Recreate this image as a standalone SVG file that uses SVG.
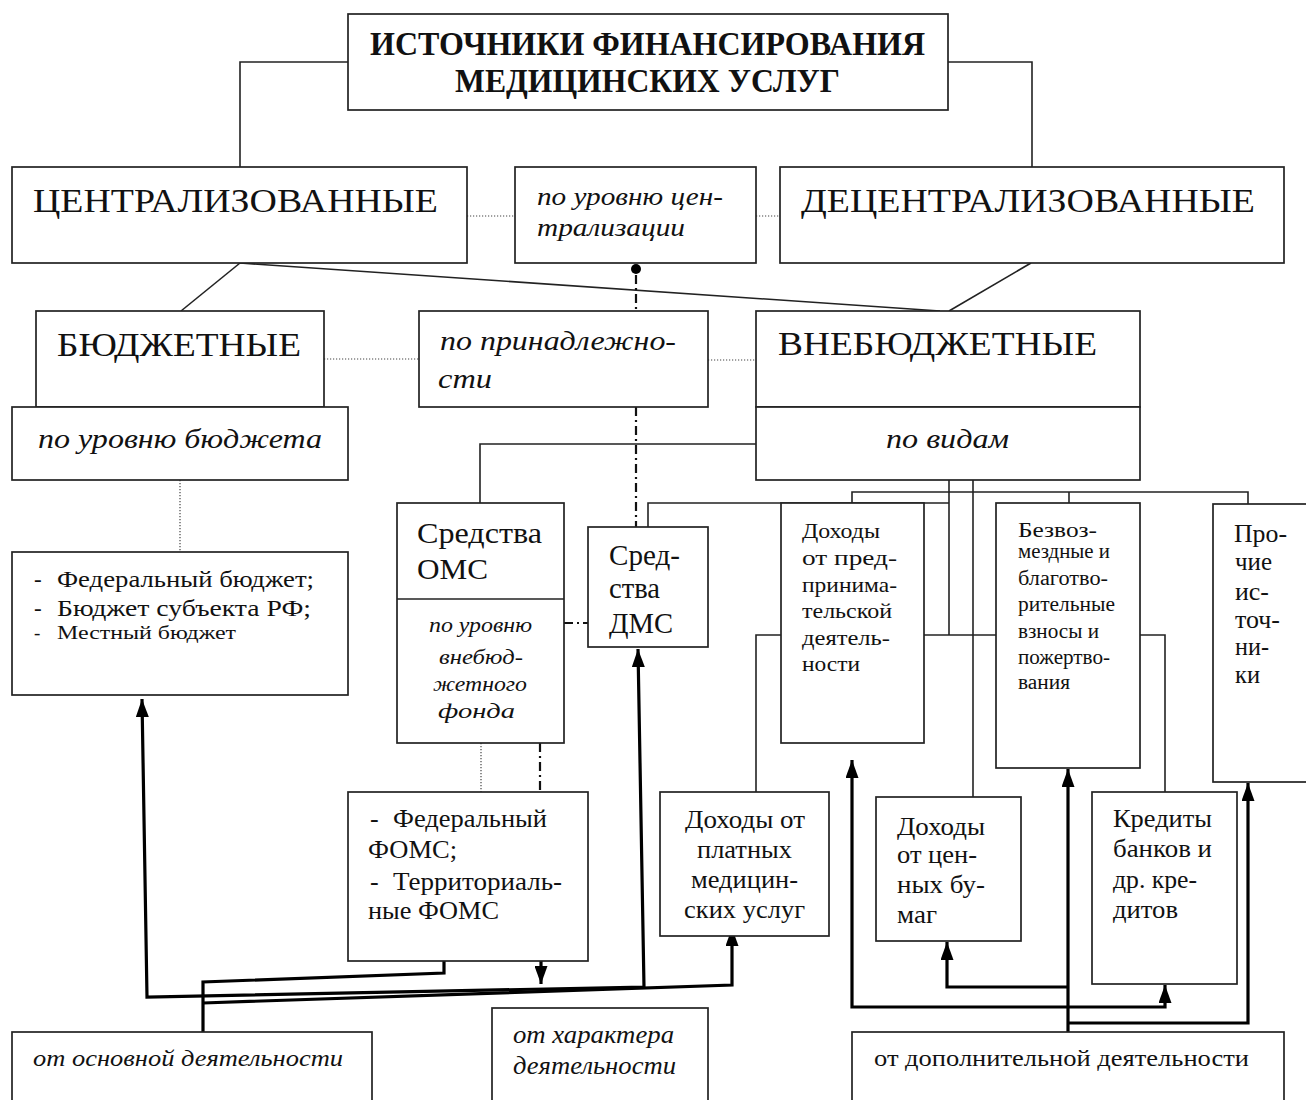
<svg xmlns="http://www.w3.org/2000/svg" width="1306" height="1100" viewBox="0 0 1306 1100">
<style>
text{font-family:"Liberation Serif","Times New Roman",serif;fill:#111}
.b{font-weight:bold;font-size:33px}
.cap{font-size:33px}
.it{font-style:italic}
.box{fill:#fff;stroke:#222;stroke-width:1.7}
.ln{fill:none;stroke:#222;stroke-width:1.6}
.dot{fill:none;stroke:#444;stroke-width:1.2;stroke-dasharray:1.2 1.8}
.dd{fill:none;stroke:#111;stroke-width:2.2;stroke-dasharray:9 4 2 4}
.bold{fill:none;stroke:#000;stroke-width:3.2;stroke-linejoin:miter}
.arr{marker-end:url(#ah)}
.arr2{marker-start:url(#ah);marker-end:url(#ah)}
</style>
<defs>
<marker id="ah" viewBox="0 0 18 13" refX="18" refY="6.5" markerWidth="18" markerHeight="13" markerUnits="userSpaceOnUse" orient="auto-start-reverse">
<path d="M0,0 L18,6.5 L0,13 z" fill="#000"/>
</marker>
</defs>
<rect width="1306" height="1100" fill="#fff"/>
<g id="connectors">
<path class="ln" d="M348,62 H240 V167"/>
<path class="ln" d="M948,62 H1032 V167"/>
<path class="ln" d="M240,263 L181,311"/>
<path class="ln" d="M240,263 L940,311"/>
<path class="ln" d="M1031,263 L949,311"/>
<path class="dot" d="M467,216 H515"/>
<path class="dot" d="M756,216 H780"/>
<path class="dot" d="M324,359 H419"/>
<path class="dot" d="M708,360 H756"/>
<path class="dot" d="M180,480 V552"/>
<path class="dot" d="M481,743 V792"/>
<path class="dd" d="M636,275 V311"/>
<path class="dd" d="M636,407 V527"/>
<path class="dd" d="M564,623 H588"/>
<path class="dd" d="M540,743 V792"/>
<circle cx="636" cy="269" r="5" fill="#000"/>
<path class="ln" d="M756,444 H480 V503"/>
<path class="ln" d="M648,527 V503 H949"/>
<path class="ln" d="M949,480 V635"/>
<path class="ln" d="M973,480 V797"/>
<path class="ln" d="M852,503 V492 H1248 V504"/>
<path class="ln" d="M1069,492 V503"/>
<path class="ln" d="M781,635 H756 V792"/>
<path class="ln" d="M924,635 H996"/>
<path class="ln" d="M1140,635 H1165 V792"/>
<path class="bold arr2" d="M142,699 L147,997 L644,987 L638,649"/>
<path class="bold arr" d="M203,1048 L203,982 L444,973 L444,942"/>
<path class="bold arr" d="M203,1003 L732,985 L732,928"/>
<path class="bold arr" d="M541,961 L541,984"/>
<path class="bold arr" d="M1068,1048 L1068,769"/>
<path class="bold arr" d="M1068,987 L947,987 L947,942"/>
<path class="bold arr" d="M1068,1023 L1248,1023 L1248,783"/>
<path class="bold arr2" d="M852,760 L852,1007 L1165,1007 L1165,985"/>
</g>
<g id="title"><rect class="box" x="348" y="14" width="600" height="96"/>
<text class="b" x="370" y="55" textLength="555" lengthAdjust="spacingAndGlyphs">ИСТОЧНИКИ ФИНАНСИРОВАНИЯ</text>
<text class="b" x="455" y="92" textLength="385" lengthAdjust="spacingAndGlyphs">МЕДИЦИНСКИХ УСЛУГ</text></g>
<g id="centr"><rect class="box" x="12" y="167" width="455" height="96"/>
<text class="cap" x="33" y="212" textLength="405" lengthAdjust="spacingAndGlyphs">ЦЕНТРАЛИЗОВАННЫЕ</text></g>
<g id="po-urovnyu-centr"><rect class="box" x="515" y="167" width="241" height="96"/>
<text class="it" font-size="25" x="537" y="205" textLength="186" lengthAdjust="spacingAndGlyphs">по уровню цен-</text>
<text class="it" font-size="25" x="537" y="236" textLength="148" lengthAdjust="spacingAndGlyphs">трализации</text></g>
<g id="decentr"><rect class="box" x="780" y="167" width="504" height="96"/>
<text class="cap" x="801" y="212" textLength="454" lengthAdjust="spacingAndGlyphs">ДЕЦЕНТРАЛИЗОВАННЫЕ</text></g>
<g id="budget"><rect class="box" x="36" y="311" width="288" height="96"/>
<text class="cap" x="57" y="356" textLength="244" lengthAdjust="spacingAndGlyphs">БЮДЖЕТНЫЕ</text></g>
<g id="po-urovnyu-budget"><rect class="box" x="12" y="407" width="336" height="73"/>
<text class="it" font-size="28" x="38" y="448" textLength="284" lengthAdjust="spacingAndGlyphs">по уровню бюджета</text></g>
<g id="po-prinadl"><rect class="box" x="419" y="311" width="289" height="96"/>
<text class="it" font-size="28" x="440" y="350" textLength="236" lengthAdjust="spacingAndGlyphs">по принадлежно-</text>
<text class="it" font-size="28" x="438" y="388" textLength="54" lengthAdjust="spacingAndGlyphs">сти</text></g>
<g id="vnebudget"><rect class="box" x="756" y="311" width="384" height="96"/>
<text class="cap" x="778" y="355" textLength="319" lengthAdjust="spacingAndGlyphs">ВНЕБЮДЖЕТНЫЕ</text></g>
<g id="po-vidam"><rect class="box" x="756" y="407" width="384" height="73"/>
<text class="it" font-size="28" x="886" y="448" textLength="123" lengthAdjust="spacingAndGlyphs">по видам</text></g>
<g id="fed-budget"><rect class="box" x="12" y="552" width="336" height="143"/>
<text font-size="23" x="34" y="587">-</text><text font-size="23" x="57" y="587" textLength="257" lengthAdjust="spacingAndGlyphs">Федеральный бюджет;</text>
<text font-size="23" x="34" y="616">-</text><text font-size="23" x="57" y="616" textLength="254" lengthAdjust="spacingAndGlyphs">Бюджет субъекта РФ;</text>
<text font-size="19" x="34" y="639">-</text><text font-size="19" x="57" y="639" textLength="179" lengthAdjust="spacingAndGlyphs">Местный бюджет</text></g>
<g id="oms"><rect class="box" x="397" y="503" width="167" height="240"/>
<path class="ln" d="M397,599 H564"/>
<text font-size="30" x="417" y="543" textLength="125" lengthAdjust="spacingAndGlyphs">Средства</text>
<text font-size="30" x="417" y="579" textLength="71" lengthAdjust="spacingAndGlyphs">ОМС</text>
<text class="it" font-size="21" x="429" y="632" textLength="103" lengthAdjust="spacingAndGlyphs">по уровню</text>
<text class="it" font-size="21" x="439" y="664" textLength="84" lengthAdjust="spacingAndGlyphs">внебюд-</text>
<text class="it" font-size="21" x="433" y="691" textLength="94" lengthAdjust="spacingAndGlyphs">жетного</text>
<text class="it" font-size="21" x="438" y="718" textLength="77" lengthAdjust="spacingAndGlyphs">фонда</text></g>
<g id="dms"><rect class="box" x="588" y="527" width="120" height="120"/>
<text font-size="30" x="609" y="565" textLength="71" lengthAdjust="spacingAndGlyphs">Сред-</text>
<text font-size="30" x="609" y="598" textLength="51" lengthAdjust="spacingAndGlyphs">ства</text>
<text font-size="30" x="609" y="633" textLength="64" lengthAdjust="spacingAndGlyphs">ДМС</text></g>
<g id="doh-predpr"><rect class="box" x="781" y="503" width="143" height="240"/>
<text font-size="22" x="802" y="538" textLength="78" lengthAdjust="spacingAndGlyphs">Доходы</text>
<text font-size="22" x="802" y="565" textLength="95" lengthAdjust="spacingAndGlyphs">от пред-</text>
<text font-size="22" x="802" y="592" textLength="95" lengthAdjust="spacingAndGlyphs">принима-</text>
<text font-size="22" x="802" y="618" textLength="90" lengthAdjust="spacingAndGlyphs">тельской</text>
<text font-size="22" x="802" y="645" textLength="88" lengthAdjust="spacingAndGlyphs">деятель-</text>
<text font-size="22" x="802" y="671" textLength="58" lengthAdjust="spacingAndGlyphs">ности</text></g>
<g id="bezvoz"><rect class="box" x="996" y="503" width="144" height="265"/>
<text font-size="20" x="1018" y="537" textLength="79" lengthAdjust="spacingAndGlyphs">Безвоз-</text>
<text font-size="20" x="1018" y="558" textLength="92" lengthAdjust="spacingAndGlyphs">мездные и</text>
<text font-size="20" x="1018" y="585" textLength="90" lengthAdjust="spacingAndGlyphs">благотво-</text>
<text font-size="20" x="1018" y="611" textLength="97" lengthAdjust="spacingAndGlyphs">рительные</text>
<text font-size="20" x="1018" y="638" textLength="81" lengthAdjust="spacingAndGlyphs">взносы и</text>
<text font-size="20" x="1018" y="664" textLength="92" lengthAdjust="spacingAndGlyphs">пожертво-</text>
<text font-size="20" x="1018" y="689" textLength="52" lengthAdjust="spacingAndGlyphs">вания</text></g>
<g id="prochie"><rect class="box" x="1213" y="504" width="110" height="278"/>
<text font-size="26" x="1234" y="542" textLength="53" lengthAdjust="spacingAndGlyphs">Про-</text>
<text font-size="26" x="1235" y="570" textLength="37" lengthAdjust="spacingAndGlyphs">чие</text>
<text font-size="26" x="1235" y="600" textLength="34" lengthAdjust="spacingAndGlyphs">ис-</text>
<text font-size="26" x="1235" y="628" textLength="45" lengthAdjust="spacingAndGlyphs">точ-</text>
<text font-size="26" x="1235" y="655" textLength="34" lengthAdjust="spacingAndGlyphs">ни-</text>
<text font-size="26" x="1235" y="683" textLength="25" lengthAdjust="spacingAndGlyphs">ки</text></g>
<g id="foms"><rect class="box" x="348" y="792" width="240" height="169"/>
<text font-size="26" x="370" y="827">-</text><text font-size="26" x="393" y="827" textLength="154" lengthAdjust="spacingAndGlyphs">Федеральный</text>
<text font-size="26" x="368" y="858" textLength="89" lengthAdjust="spacingAndGlyphs">ФОМС;</text>
<text font-size="26" x="370" y="890">-</text><text font-size="26" x="393" y="890" textLength="169" lengthAdjust="spacingAndGlyphs">Территориаль-</text>
<text font-size="26" x="368" y="919" textLength="131" lengthAdjust="spacingAndGlyphs">ные ФОМС</text></g>
<g id="doh-plat"><rect class="box" x="660" y="792" width="169" height="144"/>
<text font-size="26" x="685" y="828" textLength="120" lengthAdjust="spacingAndGlyphs">Доходы от</text>
<text font-size="26" x="697" y="858" textLength="95" lengthAdjust="spacingAndGlyphs">платных</text>
<text font-size="26" x="691" y="888" textLength="107" lengthAdjust="spacingAndGlyphs">медицин-</text>
<text font-size="26" x="684" y="918" textLength="121" lengthAdjust="spacingAndGlyphs">ских услуг</text></g>
<g id="doh-cb"><rect class="box" x="876" y="797" width="145" height="144"/>
<text font-size="26" x="897" y="835" textLength="88" lengthAdjust="spacingAndGlyphs">Доходы</text>
<text font-size="26" x="897" y="863" textLength="80" lengthAdjust="spacingAndGlyphs">от цен-</text>
<text font-size="26" x="897" y="893" textLength="88" lengthAdjust="spacingAndGlyphs">ных бу-</text>
<text font-size="26" x="897" y="923" textLength="40" lengthAdjust="spacingAndGlyphs">маг</text></g>
<g id="kredity"><rect class="box" x="1092" y="792" width="145" height="192"/>
<text font-size="25" x="1113" y="827" textLength="99" lengthAdjust="spacingAndGlyphs">Кредиты</text>
<text font-size="25" x="1113" y="857" textLength="99" lengthAdjust="spacingAndGlyphs">банков и</text>
<text font-size="25" x="1113" y="888" textLength="84" lengthAdjust="spacingAndGlyphs">др. кре-</text>
<text font-size="25" x="1113" y="918" textLength="65" lengthAdjust="spacingAndGlyphs">дитов</text></g>
<g id="osnov"><rect class="box" x="12" y="1032" width="360" height="80"/>
<text class="it" font-size="24" x="33" y="1066" textLength="310" lengthAdjust="spacingAndGlyphs">от основной деятельности</text></g>
<g id="harakter"><rect class="box" x="492" y="1008" width="216" height="104"/>
<text class="it" font-size="25" x="513" y="1043" textLength="161" lengthAdjust="spacingAndGlyphs">от характера</text>
<text class="it" font-size="25" x="513" y="1074" textLength="163" lengthAdjust="spacingAndGlyphs">деятельности</text></g>
<g id="dopoln"><rect class="box" x="852" y="1032" width="432" height="80"/>
<text font-size="24" x="874" y="1066" textLength="375" lengthAdjust="spacingAndGlyphs">от дополнительной деятельности</text></g>
</svg>
